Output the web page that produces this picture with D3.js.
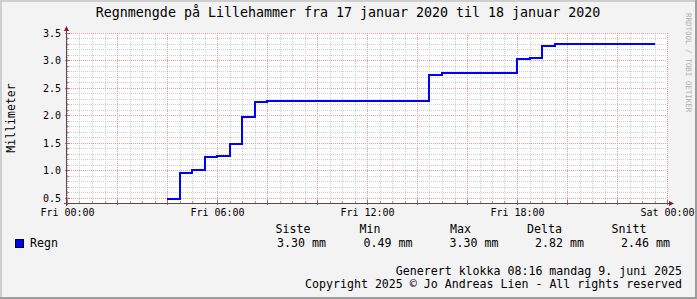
<!DOCTYPE html>
<html>
<head>
<meta charset="utf-8">
<script src="https://cdn.jsdelivr.net/npm/d3@7"></script>
<style>
  body { margin: 0; background: #f3f3f3; }
  svg text { font-family: "DejaVu Sans Mono", monospace; fill: #000; }
</style>
</head>
<body>
<div id="rrd_chart"></div>
<script>
// Rain steps (time the step starts, value in mm)
const stepTimes = ["04:00", "04:30", "05:00", "05:30", "06:00", "06:30", "07:00", "07:30",
    "08:00", "14:30", "15:00", "18:00", "18:30", "19:00", "19:30"];
const stepValues = [0.49, 0.96, 1.01, 1.25, 1.27, 1.49, 1.98, 2.25,
    2.27, 2.73, 2.78, 3.02, 3.04, 3.27, 3.30];
const endTime = "23:30";

// Axis ticks
const yTicks = [0.5, 1.0, 1.5, 2.0, 2.5, 3.0, 3.5];
const xTickTimes = ["2020-01-17 00:00", "2020-01-17 06:00", "2020-01-17 12:00", "2020-01-17 18:00", "2020-01-18 00:00"];

// Texts
const titleText = "Regnmengde på Lillehammer fra 17 januar 2020 til 18 januar 2020";
const yLabel = "Millimeter";
const seriesName = "Regn";
const statHeaders = ["Siste", "Min", "Max", "Delta", "Snitt"];
const statValues = ["3.30 mm", "0.49 mm", "3.30 mm", "2.82 mm", "2.46 mm"];
const footerLines = ["Generert klokka 08:16 mandag 9. juni 2025",
    "Copyright 2025 © Jo Andreas Lien - All rights reserved"];
const watermark = "RRDTOOL / TOBI OETIKER";

// Dimensions
const chartWidth = 697;
const chartHeight = 299;
const plot = { left: 67, right: 667, top: 33, bottom: 203 };

const parseTime = d3.timeParse("%Y-%m-%d %H:%M");
const day = t => parseTime("2020-01-17 " + t);

const svg = d3.select("#rrd_chart")
    .append("svg")
    .attr("width", chartWidth)
    .attr("height", chartHeight);

// Background and shaded frame
svg.append("rect").attr("width", chartWidth).attr("height", chartHeight).attr("fill", "#f3f3f3");
svg.append("path").attr("d", `M1,${chartHeight} V1 H${chartWidth}`)
    .attr("fill", "none").attr("stroke", "#cfcfcf").attr("stroke-width", 2);
svg.append("path").attr("d", `M0,${chartHeight - 1} H${chartWidth - 1} V0`)
    .attr("fill", "none").attr("stroke", "#9e9e9e").attr("stroke-width", 2);

// Scales
const xScale = d3.scaleTime()
    .domain([parseTime(xTickTimes[0]), parseTime(xTickTimes[xTickTimes.length - 1])])
    .range([plot.left, plot.right]);

const yScale = d3.scaleLinear()
    .domain([0.409, 3.5])
    .range([plot.bottom, plot.top]);

// Canvas
svg.append("rect")
    .attr("x", plot.left).attr("y", plot.top)
    .attr("width", plot.right - plot.left).attr("height", plot.bottom - plot.top)
    .attr("fill", "#fff");

const crisp = v => Math.round(v) + 0.5;
const grid = svg.append("g").attr("stroke-dasharray", "1,1").attr("stroke-width", 1);

// Minor grid
const minorX = xScale.ticks(d3.timeMinute.every(30)).filter(d => d.getHours() % 2 || d.getMinutes());
const minorY = d3.range(5, 35).map(d => d / 10).filter(d => d % 0.5 > 0.01 && d % 0.5 < 0.49);

grid.selectAll(".minor-x").data(minorX).enter().append("line")
    .attr("x1", d => crisp(xScale(d))).attr("x2", d => crisp(xScale(d)))
    .attr("y1", plot.top).attr("y2", plot.bottom)
    .attr("stroke", "#cfcfcf");

grid.selectAll(".minor-y").data(minorY).enter().append("line")
    .attr("x1", plot.left).attr("x2", plot.right)
    .attr("y1", d => crisp(yScale(d))).attr("y2", d => crisp(yScale(d)))
    .attr("stroke", "#cfcfcf");

// Major grid
const majorX = xScale.ticks(d3.timeHour.every(2));
grid.selectAll(".major-x").data(majorX).enter().append("line")
    .attr("x1", d => crisp(xScale(d))).attr("x2", d => crisp(xScale(d)))
    .attr("y1", plot.top).attr("y2", plot.bottom)
    .attr("stroke", "#e39d9d");

grid.selectAll(".major-y").data(yTicks).enter().append("line")
    .attr("x1", plot.left).attr("x2", plot.right)
    .attr("y1", d => crisp(yScale(d))).attr("y2", d => crisp(yScale(d)))
    .attr("stroke", "#e39d9d");

// Small ticks along the axes
svg.selectAll(".tick-x").data(minorX).enter().append("line")
    .attr("x1", d => crisp(xScale(d))).attr("x2", d => crisp(xScale(d)))
    .attr("y1", plot.bottom - 2).attr("y2", plot.bottom)
    .attr("stroke", "#9a9a9a");
svg.selectAll(".tick-xm").data(majorX).enter().append("line")
    .attr("x1", d => crisp(xScale(d))).attr("x2", d => crisp(xScale(d)))
    .attr("y1", plot.bottom - 3).attr("y2", plot.bottom + 2)
    .attr("stroke", "#d06060");
svg.selectAll(".tick-y").data(minorY).enter().append("line")
    .attr("x1", plot.left).attr("x2", plot.left + 2)
    .attr("y1", d => crisp(yScale(d))).attr("y2", d => crisp(yScale(d)))
    .attr("stroke", "#9a9a9a");
svg.selectAll(".tick-ym").data(yTicks).enter().append("line")
    .attr("x1", plot.left - 2).attr("x2", plot.left + 3)
    .attr("y1", d => crisp(yScale(d))).attr("y2", d => crisp(yScale(d)))
    .attr("stroke", "#d06060");

// Axis labels through d3 axes
const xAxis = d3.axisBottom(xScale)
    .tickValues(xTickTimes.map(parseTime))
    .tickFormat(d3.timeFormat("%a %H:%M"))
    .tickSize(0).tickPadding(6);
const yAxis = d3.axisLeft(yScale)
    .tickValues(yTicks)
    .tickFormat(d3.format(".1f"))
    .tickSize(0).tickPadding(6);

svg.append("g")
    .attr("transform", `translate(0, ${plot.bottom})`)
    .call(xAxis)
    .call(g => g.select(".domain").remove())
    .selectAll("text").attr("font-size", 10).attr("font-family", "DejaVu Sans Mono").attr("fill", "#000");

svg.append("g")
    .attr("transform", `translate(${plot.left}, 0)`)
    .call(yAxis)
    .call(g => g.select(".domain").remove())
    .selectAll("text").attr("font-size", 10).attr("font-family", "DejaVu Sans Mono").attr("fill", "#000");

// Axis lines with arrows
svg.append("line")
    .attr("x1", plot.left - 3).attr("x2", plot.right + 4)
    .attr("y1", plot.bottom + 0.5).attr("y2", plot.bottom + 0.5)
    .attr("stroke", "#5a4a4a");
svg.append("line")
    .attr("x1", plot.left - 0.5).attr("x2", plot.left - 0.5)
    .attr("y1", plot.bottom + 3).attr("y2", plot.top - 4)
    .attr("stroke", "#5a4a4a");
svg.append("path")
    .attr("d", `M${plot.right + 2},${plot.bottom - 2} L${plot.right + 7},${plot.bottom + 0.5} L${plot.right + 2},${plot.bottom + 3} Z`)
    .attr("fill", "#8b1a1a");
svg.append("path")
    .attr("d", `M${plot.left - 3},${plot.top - 2} L${plot.left - 0.5},${plot.top - 7} L${plot.left + 2},${plot.top - 2} Z`)
    .attr("fill", "#8b1a1a");

// Rain line
const lineData = stepTimes.map((t, i) => ({ time: day(t), value: stepValues[i] }));
lineData.push({ time: day(endTime), value: stepValues[stepValues.length - 1] });

const rainLine = d3.line()
    .x(d => Math.round(xScale(d.time)))
    .y(d => Math.round(yScale(d.value)))
    .curve(d3.curveStepAfter);

svg.append("path")
    .datum(lineData)
    .attr("fill", "none")
    .attr("stroke", "#0000ff")
    .attr("stroke-width", 2)
    .attr("d", rainLine);

// Title
svg.append("text")
    .attr("x", 348).attr("y", 17)
    .attr("text-anchor", "middle")
    .attr("font-size", 13.3)
    .text(titleText);

// Vertical label
svg.append("text")
    .attr("transform", "translate(15, 118) rotate(-90)")
    .attr("text-anchor", "middle")
    .attr("font-size", 11.5)
    .text(yLabel);

// Watermark
svg.append("text")
    .attr("transform", "translate(685.5, 13) rotate(90)")
    .attr("font-family", "DejaVu Sans")
    .attr("font-size", 7.5)
    .style("fill", "#b0b0b0")
    .text(watermark);

// Legend
svg.append("rect")
    .attr("x", 15.5).attr("y", 239.5).attr("width", 8).attr("height", 8)
    .attr("fill", "#0000ff").attr("stroke", "#000");
svg.append("text")
    .attr("x", 30).attr("y", 246.5)
    .attr("font-size", 11.6)
    .text(seriesName);

const headerX = [275.5, 359.5, 450, 527, 611.5];
const valueX = [277, 363.5, 449.5, 535, 621];

svg.selectAll(".stat-head").data(statHeaders).enter().append("text")
    .attr("x", (d, i) => headerX[i]).attr("y", 233)
    .attr("font-size", 11.6)
    .text(d => d);

svg.selectAll(".stat-val").data(statValues).enter().append("text")
    .attr("x", (d, i) => valueX[i]).attr("y", 246.5)
    .attr("font-size", 11.6)
    .text(d => d);

// Footer
svg.selectAll(".footer").data(footerLines).enter().append("text")
    .attr("x", 682).attr("y", (d, i) => 274.5 + i * 13.5)
    .attr("text-anchor", "end")
    .attr("font-size", 11.6)
    .text(d => d);
</script>
</body>
</html>
